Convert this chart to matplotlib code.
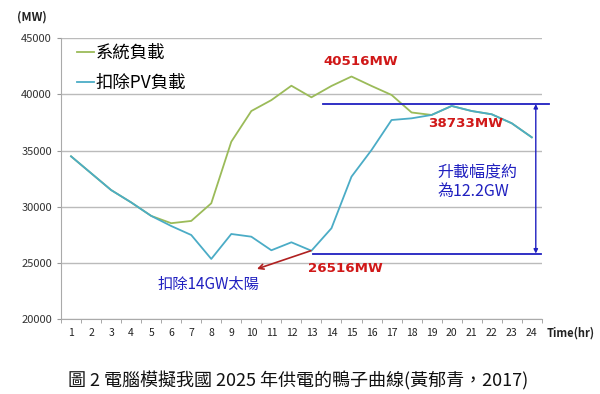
import numpy as np
import matplotlib
matplotlib.use("Agg")
import matplotlib.pyplot as plt

plt.rcParams['font.family'] = ['Noto Sans CJK TC', 'DejaVu Sans']

# 資料
hours = list(range(1, 25))
system_load = [34500, 33000, 31500, 30400, 29200, 28550, 28750, 30320, 35800, 38530,
               39500, 40780, 39750, 40760, 41600, 40760, 39960, 38400, 38180, 38980,
               38530, 38240, 37440, 36190]
net_load = [34500, 33000, 31500, 30400, 29200, 28300, 27500, 25370, 27590, 27350,
            26140, 26850, 26100, 28100, 32690, 35060, 37730, 37880, 38180, 38980,
            38530, 38240, 37440, 36190]
yticks = [20000, 25000, 30000, 35000, 40000, 45000]

green = '#9BBB59'
blue = '#4BACC6'
navy = '#2020C0'
red = '#D01818'

fig = plt.figure(figsize=(6, 3.94), dpi=100)
ax = fig.add_axes([0.1017, 0.1896, 0.8013, 0.7132])

ax.plot(hours, system_load, color=green, lw=1.3, label='系統負載')
ax.plot(hours, net_load, color=blue, lw=1.3, label='扣除PV負載')

ax.set_xlim(0.5, 24.5)
ax.set_ylim(20000, 45000)
ax.set_yticks(yticks)
ax.set_xticks(hours)
ax.set_xticks(np.arange(0.5, 25, 1), minor=True)
ax.tick_params(axis='x', which='major', length=0, labelsize=7.5, pad=6, colors='#222222')
ax.tick_params(axis='x', which='minor', length=3, color='#999999')
ax.tick_params(axis='y', length=3, color='#999999', labelsize=8, colors='#333333')
ax.yaxis.grid(True, color='#BBBBBB', lw=1)
ax.set_axisbelow(True)
for s in ['top', 'right']:
    ax.spines[s].set_visible(False)
for s in ['left', 'bottom']:
    ax.spines[s].set_color('#AAAAAA')

leg = ax.legend(loc='upper left', bbox_to_anchor=(0.0, 1.035), frameon=False,
                handlelength=1.0, handletextpad=0.1, labelspacing=0.7,
                prop={'size': 12.5})

# 標註線
ax.plot([13.57, 24.85], [39150, 39150], color=navy, lw=1.3, clip_on=False)
ax.plot([13.1, 24.45], [25850, 25850], color=navy, lw=1.3, clip_on=False)
ax.annotate('', xy=(24.2, 39150), xytext=(24.2, 25850),
            arrowprops=dict(arrowstyle='<|-|>', color=navy, lw=1, mutation_scale=6,
                            shrinkA=0, shrinkB=0))
ax.annotate('', xy=(10.28, 24480), xytext=(12.97, 26100),
            arrowprops=dict(arrowstyle='->', color='#B02020', lw=1.2, mutation_scale=9,
                            shrinkA=0, shrinkB=0))

ax.text(15.47, 42900, '40516MW', color=red, fontsize=9.6, fontweight='bold',
        ha='center', va='center', family=['DejaVu Sans'])
ax.text(20.7, 37460, '38733MW', color=red, fontsize=9.6, fontweight='bold',
        ha='center', va='center', family=['DejaVu Sans'])
ax.text(14.67, 24480, '26516MW', color=red, fontsize=9.6, fontweight='bold',
        ha='center', va='center', family=['DejaVu Sans'])
ax.text(19.3, 32200, '升載幅度約\n為12.2GW', color=navy, fontsize=11.5,
        ha='left', va='center', linespacing=1.15)
ax.text(5.34, 23140, '扣除14GW太陽', color=navy, fontsize=11,
        ha='left', va='center')

fig.text(17 / 600, 1 - 17 / 394, '(MW)', fontsize=8.5, fontweight='bold',
         color='#222222', va='center')
fig.text(547 / 600, 1 - 333 / 394, 'Time(hr)', fontsize=8, fontweight='bold',
         color='#222222', va='center')
fig.text(298 / 600, 1 - 381 / 394, '圖 2 電腦模擬我國 2025 年供電的鴨子曲線(黃郁青，2017)',
         fontsize=13, ha='center', va='center', color='#111111')

fig.savefig('out.png', dpi=100)
